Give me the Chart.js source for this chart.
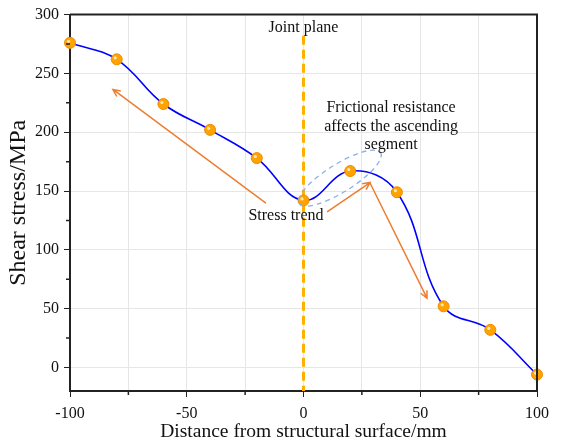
<!DOCTYPE html>
<html lang="en">
<head>
  <meta charset="UTF-8"/>
  <title>Shear stress vs distance from structural surface</title>
  <script src="https://cdn.jsdelivr.net/npm/chart.js"></script>
  <style>
    html, body { margin: 0; padding: 0; background: #fff; }
    #wrap { width: 565px; height: 445px; }
  </style>
</head>
<body>
<div id="wrap"><canvas id="stressChart" width="565" height="445"></canvas></div>
<script>
  // measured points
  const distance = [-100, -80, -60, -40, -20, 0, 20, 40, 60, 80, 100];
  const shearStress = [276, 262, 224, 202, 178, 142, 167, 149, 52, 32, -6];

  const xTickLabels = [-100, -50, 0, 50, 100];
  const yTickLabels = [0, 50, 100, 150, 200, 250, 300];

  const serif = "'Liberation Serif', 'Times New Roman', serif";
  const orange = '#ED7D31';

  // annotation layer, in data units
  const arrows = [
    { from: [-16.1, 139.8], to: [-81.6, 236.4] },
    { from: [10.1, 132.2], to: [28.5, 157.2] },
    { from: [28.5, 156.8], to: [52.9, 58.9] }
  ];
  const notes = [
    { text: 'Joint plane', at: [0, 289] },
    { text: 'Frictional resistance', at: [37.5, 221] },
    { text: 'affects the ascending', at: [37.5, 205] },
    { text: 'segment', at: [37.5, 189] },
    { text: 'Stress trend', at: [-7.5, 128.8] }
  ];
  const ellipseCenter = [15.6, 161];
  const jointLineTop = 282;

  function drawArrow(ctx, x1, y1, x2, y2) {
    const a = Math.atan2(y2 - y1, x2 - x1);
    const h = 8;
    ctx.beginPath();
    ctx.moveTo(x1, y1);
    ctx.lineTo(x2, y2);
    ctx.moveTo(x2 - h * Math.cos(a - 0.45), y2 - h * Math.sin(a - 0.45));
    ctx.lineTo(x2, y2);
    ctx.lineTo(x2 - h * Math.cos(a + 0.45), y2 - h * Math.sin(a + 0.45));
    ctx.stroke();
  }

  const decorations = {
    id: 'decorations',
    beforeDatasetsDraw(chart) {
      const { ctx, chartArea: ca, scales: { x, y } } = chart;
      ctx.save();
      // joint plane marker
      ctx.strokeStyle = '#FFB000';
      ctx.lineWidth = 3;
      ctx.setLineDash([9, 5]);
      const x0 = x.getPixelForValue(0);
      ctx.beginPath();
      ctx.moveTo(x0, y.getPixelForValue(jointLineTop));
      ctx.lineTo(x0, ca.bottom);
      ctx.stroke();
      ctx.restore();
    },
    afterDatasetsDraw(chart) {
      const { ctx, chartArea: ca, scales: { x, y } } = chart;
      ctx.save();

      // shine on the markers
      chart.getDatasetMeta(0).data.forEach(p => {
        ctx.fillStyle = 'rgba(255,240,200,0.9)';
        ctx.beginPath();
        ctx.arc(p.x - 1.5, p.y - 1.5, 1.6, 0, Math.PI * 2);
        ctx.fill();
      });

      // frame on top and right
      ctx.strokeStyle = '#222';
      ctx.lineWidth = 2;
      ctx.beginPath();
      ctx.moveTo(ca.left, ca.top);
      ctx.lineTo(ca.right, ca.top);
      ctx.lineTo(ca.right, ca.bottom);
      ctx.stroke();

      // minor ticks
      ctx.lineWidth = 1.5;
      ctx.beginPath();
      [-75, -25, 25, 75].forEach(v => {
        const px = x.getPixelForValue(v);
        ctx.moveTo(px, ca.bottom);
        ctx.lineTo(px, ca.bottom + 4);
      });
      [25, 75, 125, 175, 225, 275].forEach(v => {
        const py = y.getPixelForValue(v);
        ctx.moveTo(ca.left, py);
        ctx.lineTo(ca.left - 4, py);
      });
      ctx.stroke();

      // dashed ellipse around the rising segment
      ctx.strokeStyle = '#8FB0E8';
      ctx.lineWidth = 1.3;
      ctx.setLineDash([5, 4]);
      ctx.beginPath();
      ctx.ellipse(x.getPixelForValue(ellipseCenter[0]), y.getPixelForValue(ellipseCenter[1]),
        48, 14, -32 * Math.PI / 180, 0, Math.PI * 2);
      ctx.stroke();
      ctx.setLineDash([]);

      // trend arrows
      ctx.strokeStyle = orange;
      ctx.lineWidth = 1.5;
      arrows.forEach(a => {
        drawArrow(ctx,
          x.getPixelForValue(a.from[0]), y.getPixelForValue(a.from[1]),
          x.getPixelForValue(a.to[0]), y.getPixelForValue(a.to[1]));
      });

      // labels
      ctx.fillStyle = '#111';
      ctx.font = '16px ' + serif;
      ctx.textAlign = 'center';
      ctx.textBaseline = 'middle';
      notes.forEach(n => {
        ctx.fillText(n.text, x.getPixelForValue(n.at[0]), y.getPixelForValue(n.at[1]));
      });
      ctx.restore();
    }
  };

  new Chart(document.getElementById('stressChart'), {
    type: 'line',
    data: {
      datasets: [{
        data: distance.map((d, i) => ({ x: d, y: shearStress[i] })),
        borderColor: '#0000FF',
        borderWidth: 1.6,
        tension: 0.4,
        pointRadius: 5.5,
        pointBackgroundColor: '#FFA300',
        pointBorderColor: '#F08A00',
        pointBorderWidth: 1,
        clip: false
      }]
    },
    options: {
      responsive: false,
      animation: false,
      layout: { padding: { top: 14, right: 28, left: 0, bottom: 0 } },
      plugins: {
        legend: { display: false },
        tooltip: { enabled: false }
      },
      scales: {
        x: {
          type: 'linear',
          min: -100,
          max: 100,
          afterFit: s => { s.height = 54; },
          afterBuildTicks: s => { s.ticks = [-100, -75, -50, -25, 0, 25, 50, 75, 100].map(v => ({ value: v })); },
          ticks: {
            color: '#111',
            font: { family: serif, size: 16 },
            padding: 7,
            maxRotation: 0,
            callback: v => xTickLabels.includes(v) ? String(v) : ''
          },
          grid: {
            color: '#E6E6E6',
            tickLength: 6,
            tickColor: ctx => xTickLabels.includes(ctx.tick.value) ? '#222' : 'rgba(0,0,0,0)',
            lineWidth: 1
          },
          border: { color: '#222', width: 2 },
          title: {
            display: true,
            text: 'Distance from structural surface/mm',
            color: '#111',
            font: { family: serif, size: 19.5 },
            padding: { top: 0, bottom: 1 }
          }
        },
        y: {
          min: -20,
          max: 300,
          afterFit: s => { s.width = 70; },
          afterBuildTicks: s => { s.ticks = [0, 25, 50, 75, 100, 125, 150, 175, 200, 225, 250, 275, 300].map(v => ({ value: v })); },
          ticks: {
            color: '#111',
            font: { family: serif, size: 16 },
            padding: 5,
            callback: v => yTickLabels.includes(v) ? String(v) : ''
          },
          grid: {
            color: ctx => ctx.tick && yTickLabels.includes(ctx.tick.value) ? '#E6E6E6' : 'rgba(0,0,0,0)',
            tickLength: 6,
            tickColor: ctx => yTickLabels.includes(ctx.tick.value) ? '#222' : 'rgba(0,0,0,0)'
          },
          border: { color: '#222', width: 2 },
          title: {
            display: true,
            text: 'Shear stress/MPa',
            color: '#111',
            font: { family: serif, size: 24 },
            padding: { top: 4, bottom: 0 }
          }
        }
      }
    },
    plugins: [decorations]
  });
</script>
</body>
</html>
